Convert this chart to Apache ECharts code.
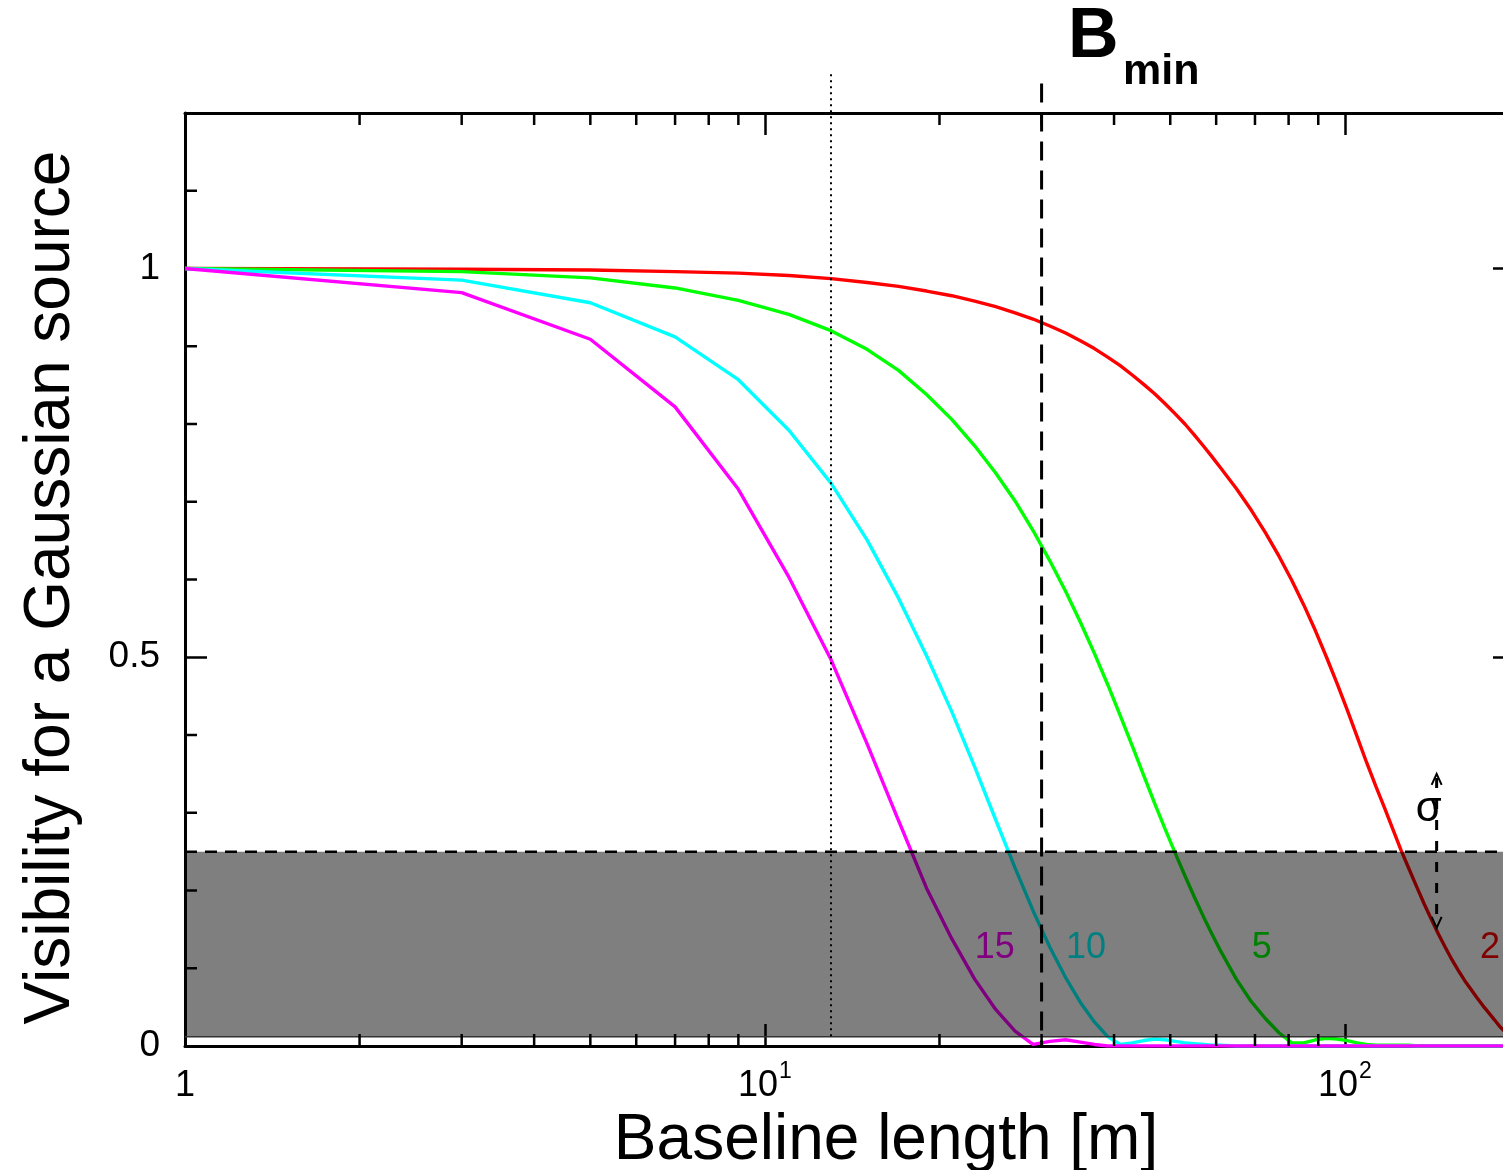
<!DOCTYPE html>
<html><head><meta charset="utf-8">
<script src="https://cdn.jsdelivr.net/npm/echarts@6/dist/echarts.min.js"></script>
<style>html,body{margin:0;padding:0;background:#fff}#c{width:1503px;height:1170px}</style>
</head><body><div id="c"></div><script>
// ---- data ----
const baseline = [1,3,5,7,9,11,13,15,17,19,21,23,25,27,29,31,33,35,37,39,41,43,45,47,49,51,53,55,57,59,61,
  65,69,73,77,81,85,89,93,97,101,105,109,113,117,121,125,129,133,137,141,145,149,153,157,161,165,169,173,177,181,185,189,193];
const vis2 = [1.000,0.999,0.998,0.996,0.994,0.991,0.987,0.982,0.977,0.971,0.965,0.958,0.951,0.943,0.935,0.926,0.917,0.907,0.897,0.886,0.875,0.863,0.851,0.839,0.826,0.813,0.800,0.786,0.772,0.758,0.744,
  0.717,0.689,0.660,0.630,0.599,0.567,0.534,0.500,0.466,0.432,0.398,0.365,0.335,0.307,0.279,0.252,0.228,0.205,0.183,0.163,0.144,0.127,0.111,0.097,0.084,0.073,0.062,0.052,0.043,0.034,0.025,0.018,0.012];
const vis5 = [1.000,0.996,0.988,0.975,0.959,0.941,0.920,0.896,0.869,0.838,0.806,0.772,0.737,0.701,0.663,0.624,0.585,0.545,0.505,0.465,0.425,0.386,0.348,0.312,0.279,0.248,0.219,0.192,0.167,0.144,0.123,
  0.086,0.057,0.035,0.017,0.004,0.004,0.008,0.010,0.009,0.007,0.004,0.002,0.001,0.001,0.001,0.001,0.001,0,0,0,0,0,0,0,0,0,0,0,0,0,0,0,0];
const vis10 = [1.000,0.985,0.956,0.912,0.857,0.792,0.724,0.651,0.576,0.502,0.430,0.359,0.291,0.229,0.174,0.127,0.088,0.056,0.031,0.012,0.002,0.004,0.007,0.009,0.008,0.006,0.004,0.003,0.002,0.001,0.001,
  0,0,0,0,0,0,0,0,0,0,0,0,0,0,0,0,0,0,0,0,0,0,0,0,0,0,0,0,0,0,0,0,0];
const vis15 = [1.000,0.969,0.909,0.822,0.716,0.603,0.497,0.389,0.290,0.203,0.138,0.086,0.047,0.019,0.002,0.006,0.008,0.005,0.002,0,0,0,0,0,0,0,0,0,0,0,0,
  0,0,0,0,0,0,0,0,0,0,0,0,0,0,0,0,0,0,0,0,0,0,0,0,0,0,0,0,0,0,0,0,0];
const curveNames = ['2','5','10','15'];
const xRange = [1,195];
const yRange = [0,1.2];
const xMajorTicks = [1,10,100];
const xMinorTicks = [2,3,4,5,6,7,8,9,20,30,40,50,60,70,80,90];
const yMajorTicks = [0,0.5,1];
const yMinorTicks = [0.1,0.2,0.3,0.4,0.6,0.7,0.8,0.9,1.1];
const bMin = 30;            // dashed vertical line
const bRef = 13;            // dotted vertical line
const bandRange = [0.012, 0.25];
const sigmaArrow = [144, 0.35, 0.152];
const curveLabelPos = [[178,0.126],[71.9,0.126],[35.8,0.126],[24.9,0.126]]; // for '2','5','10','15'

// ---- chart ----
const FONT = '"Liberation Sans", Arial, Helvetica, sans-serif';
const chart = echarts.init(document.getElementById('c'), null, {renderer:'canvas'});
const lineColors = ['#ff0000','#00ff00','#00ffff','#ff00ff'];
const labelColors = ['#800000','#008000','#008080','#800080'];
const curves = [vis2, vis5, vis10, vis15];

const tickStyle = {color:'#000', width:2.5};
const xBottom = {
  type:'log', logBase:10, min:xRange[0], max:xRange[1], position:'bottom',
  axisLine:{show:true, onZero:false, lineStyle:{color:'#000', width:3}},
  axisTick:{show:true, inside:true, length:22, customValues:xMajorTicks, lineStyle:tickStyle},
  axisLabel:{
    show:true, customValues:xMajorTicks, margin:14,
    formatter: v => v === 1 ? '{p|1}' : '{n|10}{s|' + Math.round(Math.log10(v)) + '}',
    rich:{
      p:{fontSize:36, fontFamily:FONT, color:'#000', padding:[8,0,0,0]},
      n:{fontSize:36, fontFamily:FONT, color:'#000', verticalAlign:'bottom'},
      s:{fontSize:23, fontFamily:FONT, color:'#000', verticalAlign:'top', padding:[0,0,21,1]}
    }
  },
  splitLine:{show:false}, minorTick:{show:false},
  name:'Baseline length [m]', nameLocation:'middle', nameGap:48,
  nameTextStyle:{fontSize:64, fontFamily:FONT, color:'#000', padding:[0,0,0,74]}
};
const xTop = {
  type:'log', logBase:10, min:xRange[0], max:xRange[1], position:'top',
  axisLine:{show:true, onZero:false, lineStyle:{color:'#000', width:3}},
  axisTick:{show:true, inside:true, length:22, customValues:xMajorTicks, lineStyle:tickStyle},
  axisLabel:{show:false}, splitLine:{show:false}, minorTick:{show:false}
};
const yLeft = {
  type:'value', min:yRange[0], max:yRange[1], position:'left',
  axisLine:{show:true, onZero:false, lineStyle:{color:'#000', width:3}},
  axisTick:{show:true, inside:true, length:22, customValues:yMajorTicks, lineStyle:tickStyle},
  axisLabel:{show:true, customValues:yMajorTicks, margin:25, fontSize:37, fontFamily:FONT, color:'#000',
    formatter: v => v === 0.5 ? '0.5' : String(v)},
  splitLine:{show:false},
  name:'Visibility for a Gaussian source', nameLocation:'middle', nameGap:102, nameRotate:90,
  nameTextStyle:{fontSize:64, fontFamily:FONT, color:'#000', padding:[0,16,0,0]}
};
const yRight = {
  type:'value', min:yRange[0], max:yRange[1], position:'right',
  axisLine:{show:true, onZero:false, lineStyle:{color:'#000', width:3}},
  axisTick:{show:true, inside:true, length:20, customValues:[0.5,1], lineStyle:tickStyle},
  axisLabel:{show:false}, splitLine:{show:false}
};

const series = curves.map((vals, i) => ({
  type:'line', name:curveNames[i],
  data: baseline.map((b, k) => [b, vals[k]]),
  showSymbol:false, symbol:'none', smooth:false, clip:true,
  lineStyle:{color:lineColors[i], width:3.4}, z:2, animation:false
}));

// minor ticks on x (top & bottom), drawn through the axis scale
series.push({
  type:'custom', z:10, animation:false, silent:true,
  data: xMinorTicks.map(v => [v, yRange[0]]),
  renderItem:(params, api) => {
    const b = api.coord([api.value(0), yRange[0]]);
    const t = api.coord([api.value(0), yRange[1]]);
    const st = {stroke:'#000', lineWidth:2.5};
    return {type:'group', children:[
      {type:'line', shape:{x1:b[0], y1:b[1], x2:b[0], y2:b[1]-12}, style:st},
      {type:'line', shape:{x1:t[0], y1:t[1], x2:t[0], y2:t[1]+12}, style:st}
    ]};
  }
});
// minor ticks on the left y axis
series.push({
  type:'custom', z:10, animation:false, silent:true,
  data: yMinorTicks.map(v => [xRange[0], v]),
  renderItem:(params, api) => {
    const p = api.coord([xRange[0], api.value(1)]);
    return {type:'line', shape:{x1:p[0], y1:p[1], x2:p[0]+12, y2:p[1]}, style:{stroke:'#000', lineWidth:2.5}};
  }
});
// shaded band with dashed upper edge
series.push({
  type:'custom', z:5, animation:false, silent:true,
  data:[[xRange[0], bandRange[0], xRange[1], bandRange[1]]],
  renderItem:(params, api) => {
    const a = api.coord([api.value(0), api.value(3)]);
    const b = api.coord([api.value(2), api.value(1)]);
    return {type:'group', children:[
      {type:'rect', shape:{x:a[0], y:a[1], width:b[0]-a[0], height:b[1]-a[1]}, style:{fill:'rgba(0,0,0,0.5)'}},
      {type:'line', shape:{x1:a[0], y1:b[1], x2:b[0], y2:b[1]}, style:{stroke:'#333', lineWidth:1.5}},
      {type:'line', shape:{x1:a[0], y1:a[1], x2:b[0], y2:a[1]}, style:{stroke:'#000', lineWidth:2.5, lineDash:[12,8]}}
    ]};
  }
});
// vertical reference lines
series.push({
  type:'custom', z:7, animation:false, silent:true,
  data:[[bRef, 1.25, 0.008, 0], [bMin, 1.238, 0, 1]],
  renderItem:(params, api) => {
    const p1 = api.coord([api.value(0), api.value(1)]);
    const p2 = api.coord([api.value(0), api.value(2)]);
    const dashed = api.value(3) === 1;
    return {type:'line', shape:{x1:p1[0], y1:p1[1], x2:p2[0], y2:p2[1]},
      style: dashed ? {stroke:'#000', lineWidth:3, lineDash:[19,10]} : {stroke:'#000', lineWidth:2, lineDash:[2,4]}};
  }
});
// sigma arrow
series.push({
  type:'custom', z:8, animation:false, silent:true,
  data:[sigmaArrow],
  renderItem:(params, api) => {
    const t = api.coord([api.value(0), api.value(1)]);
    const b = api.coord([api.value(0), api.value(2)]);
    return {type:'group', children:[
      {type:'line', shape:{x1:t[0], y1:t[1]+4, x2:b[0], y2:b[1]-4}, style:{stroke:'#000', lineWidth:3, lineDash:[10,11]}},
      {type:'polyline', shape:{points:[[t[0]-5,t[1]+11],[t[0],t[1]],[t[0]+5,t[1]+11]]}, style:{stroke:'#000', lineWidth:2, fill:null}},
      {type:'polyline', shape:{points:[[b[0]-5,b[1]-11],[b[0],b[1]],[b[0]+5,b[1]-11]]}, style:{stroke:'#000', lineWidth:2, fill:null}},
      {type:'text', x:t[0]-8, y:t[1]+36, style:{text:'σ', fill:'#000', fontSize:42, fontFamily:FONT, align:'center', verticalAlign:'middle'}}
    ]};
  }
});
// curve labels
series.push({
  type:'custom', z:9, animation:false, silent:true,
  data: curveLabelPos.map((p, i) => [p[0], p[1], i]),
  renderItem:(params, api) => {
    const i = api.value(2);
    const p = api.coord([api.value(0), api.value(1)]);
    return {type:'text', x:p[0], y:p[1], style:{text:curveNames[i], fill:labelColors[i], fontSize:36, fontFamily:FONT, align:'center', verticalAlign:'middle'}};
  }
});

chart.setOption({
  animation:false,
  backgroundColor:'#fff',
  grid:{left:185, top:113, right:-10, bottom:124, containLabel:false, outerBoundsMode:'none'},
  xAxis:[xBottom, xTop],
  yAxis:[yLeft, yRight],
  graphic:[
    {type:'text', left:1068, top:3, style:{text:'B', font:'bold 70px ' + FONT, fill:'#000'}},
    {type:'text', left:1123, top:51, style:{text:'min', font:'bold 43px ' + FONT, fill:'#000'}}
  ],
  series: series
});
</script></body></html>
